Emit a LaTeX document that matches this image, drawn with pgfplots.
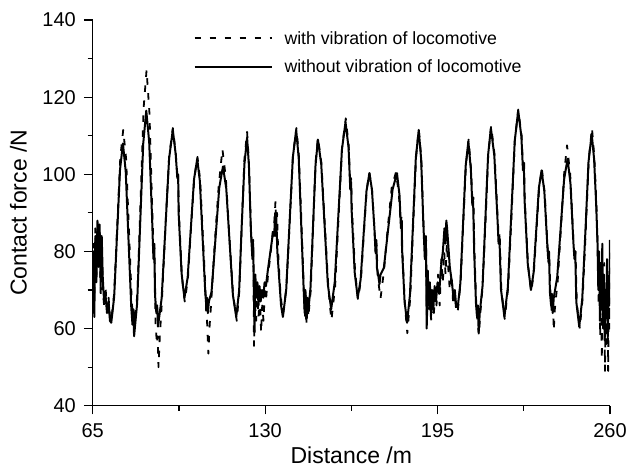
\documentclass[border=0pt]{standalone}
\usepackage{fontspec}
\setmainfont{Liberation Sans}
\usepackage{pgfplots}
\pgfplotsset{compat=1.18}
\begin{document}
\begin{tikzpicture}
\useasboundingbox (-92.7pt,-64.3pt) rectangle (534.3pt,405.7pt);
\begin{axis}[
  at={(0pt,0pt)}, anchor=south west,
  scale only axis, width=517.3pt, height=385.7pt,
  xmin=65, xmax=260, ymin=40, ymax=140,
  axis lines*=left,
  axis line style={-, line width=1.2pt, black},
  xtick={65,130,195,260}, minor xtick={97.5,162.5,227.5},
  ytick={40,60,80,100,120,140}, minor ytick={50,70,90,110,130},
  tick align=outside,
  major tick length=8.7pt, minor tick length=5pt,
  tick style={line width=1.2pt, black},
  /pgf/number format/assume math mode=true,
  ticklabel style={font=\fontsize{20}{21}\selectfont, inner sep=0pt},
  xticklabel style={yshift=-8.9pt},
  yticklabel style={xshift=-8pt},
  xlabel={Distance /m}, ylabel={Contact force /N},
  label style={font=\fontsize{23}{24}\selectfont},
  xlabel style={at={(axis description cs:0.5,-0.1493)}, anchor=base},
  ylabel style={at={(axis description cs:-0.1276,0.5)}, anchor=base},
  legend style={at={(axis description cs:0.1945,0.9715)}, anchor=north west,
    draw=none, fill=none, inner sep=0pt, row sep=14.4pt,
    font=\fontsize{17.7}{18}\selectfont, nodes={inner sep=0pt}},
  legend cell align=left,
  /tikz/every odd column/.append style={column sep=12pt},
  legend image code/.code={\draw[#1] (0pt,0pt) -- (77pt,0pt);},
]
\addplot[black, line width=1.8pt, dash pattern=on 6.5pt off 8.5pt, line join=round] coordinates {
(65.0,66) (65.3,82) (65.6,68) (66.0,86) (66.4,74) (66.8,86) (67.2,78) (67.6,85) (68.0,68) (68.4,82) (68.8,70) (69.3,66) (69.8,71) (70.4,65) (71.0,68) (71.5,63) (72.0,62)
(73.1,69.2) (74.25,86.8) (75.4,104.3) (76.5,111.5)
(77.6,104) (78.65,85.8) (79.7,67.5) (80.1,63) (80.4,66) (80.8,60)
(81.9,69.8) (83.05,93.5) (84.2,117.2) (85.3,127)
(86.4,115.8) (87.55,88.5) (88.0,80) (88.3,82) (88.7,61.2) (89.2,56) (89.5,58) (89.8,50)
(90.3,58) (91.0,66) (92.4,86) (93.8,104.5) (95.2,112)
(96.3,105.5) (96.9,100) (97.2,101) (97.5,90) (98.6,74) (99.3,69) (99.7,67)
(100.9,73) (102.1,86.5) (103.3,99) (104.5,104.5)
(105.5,98.5) (106.5,84.5) (107.4,72) (107.8,64) (108.1,62) (108.6,53.5) (109.0,60)
(109.6,66) (110.9,81) (112.5,97) (113.9,106.5)
(115.2,99) (116.6,83) (117.9,69) (119.3,62)
(120.3,70) (121.2,87) (122.2,104) (123.2,111)
(123.9,103) (124.6,87) (125.1,79) (125.5,83) (125.8,55.5) (126.2,66) (126.6,62) (127.0,70) (127.5,63) (128.0,68) (128.5,59) (128.9,66) (129.4,62) (129.9,70) (130.4,68) (131.1,74) (132.0,79) (133.0,86) (133.5,88) (133.9,93) (134.2,86) (134.5,90) (134.9,80) (135.5,72) (136.1,67) (136.8,64)
(138.0,70.5) (139.3,88) (140.5,105) (141.8,112)
(142.7,105) (143.7,87.5) (144.6,70) (145.0,63) (145.3,69) (145.6,61) (146.0,66) (146.3,63)
(147.2,70) (148.1,86.5) (149.0,103) (149.9,109.5)
(151.2,103) (152.5,87) (153.8,71) (154.4,66) (155.0,62.2)
(156.4,71) (157.7,89) (159.0,107) (160.4,114.5)
(161.5,107.5) (162.1,97) (162.4,99) (162.7,91) (163.9,75) (165.0,67.5)
(166.1,72.5) (167.2,84.5) (168.3,96) (169.3,100.5)
(170.3,96) (171.3,85) (171.7,79) (172.0,82) (172.4,74) (172.9,71) (173.5,67.8)
(174.8,75) (176.2,86) (177.7,96.5) (179.3,100.5)
(180.4,95) (181.1,87) (181.4,89) (181.8,79) (182.7,66) (183.6,58.8)
(184.7,68) (185.8,86.5) (186.9,104.5) (187.9,111.8)
(188.9,104) (189.7,87) (190.3,79) (190.7,83) (191.0,62) (191.4,72) (191.8,65) (192.2,70) (192.6,62) (193.1,68) (193.6,64) (194.1,69) (194.6,66) (195.2,74) (195.8,66) (196.4,78) (197.0,72) (197.5,80) (198.0,74) (198.5,82) (199.0,76) (199.6,70) (200.3,74) (200.9,66) (201.5,69) (202.1,64) (202.7,65)
(203.7,72) (204.7,87.5) (205.7,102.5) (206.7,109)
(207.6,101.5) (208.2,92) (208.5,94) (208.9,80) (209.6,66) (210.0,62) (210.6,58.3) (211.0,63)
(212.0,71) (213.1,88) (214.1,105) (215.2,112.5)
(216.5,105) (217.7,88) (218.1,83) (218.4,85) (219.0,70.5) (220.3,62.5)
(221.6,70.5) (222.9,89.5) (224.1,108.5) (225.4,116.8)
(226.7,110) (227.3,100) (227.6,104) (227.9,93) (229.1,76.5) (230.3,69.5)
(231.3,74.5) (232.3,85.5) (233.3,96.5) (234.3,101.5)
(235.4,95) (236.4,82) (236.8,77) (237.1,79) (237.6,68) (238.1,64) (238.5,66) (238.8,59.5) (239.2,65)
(240.3,72.5) (241.5,86) (242.7,100) (243.8,107.5)
(245.0,100) (246.2,83) (246.7,78) (247.0,80) (247.5,66.5) (248.6,60)
(249.7,68) (250.9,86) (252.0,104) (253.2,112)
(254.1,104.5) (254.9,92) (255.4,80) (255.7,66) (256.0,78) (256.3,58) (256.6,74) (256.9,52) (257.2,70) (257.5,62) (257.8,77) (258.1,49) (258.4,66) (258.7,56) (259.0,72) (259.3,49) (259.6,70) (259.9,60) (260.0,80)
};
\addlegendentry{with vibration of locomotive}
\addplot[black, line width=2pt, line join=round] coordinates {
(65.0,70) (65.3,80) (65.6,63) (66.0,84) (66.4,72) (66.8,88) (67.2,76) (67.6,87) (68.0,71) (68.4,84) (68.8,73) (69.3,67) (69.8,69) (70.4,64) (71.0,67) (71.5,62) (72.0,61.5)
(73.1,68.3) (74.2,84.8) (75.3,101.2) (76.4,108)
(77.45,100.7) (78.5,83) (79.55,65.3) (80.0,61) (80.3,65) (80.6,58)
(81.75,66.5) (82.9,87.3) (84.05,108) (85.2,116.5)
(86.3,108.3) (87.4,88.5) (87.6,84) (87.9,78) (88.2,81) (88.5,68.7) (89.0,64) (89.3,66) (89.6,60.5)
(91.0,67.9) (92.4,86) (93.8,104.1) (95.2,111.5)
(96.3,105.1) (96.9,99) (97.2,100) (97.4,89.8) (98.5,74.4) (99.2,70) (99.6,68)
(100.8,73.3) (102.0,86) (103.2,98.7) (104.4,104)
(105.4,98.2) (106.4,84) (107.4,69.8) (107.8,66) (108.1,68) (108.4,64) (108.8,67)
(109.8,69.5) (111.25,83) (112.7,96.5) (114.1,102)
(115.35,96.3) (116.6,82.5) (117.85,68.7) (119.1,63)
(120.2,69.8) (121.15,86.3) (122.2,102.7) (123.2,109.5)
(123.9,102.1) (124.6,86) (125.2,78) (125.5,82) (126.0,59) (126.3,74) (126.7,68) (127.1,72) (127.5,66) (127.9,71) (128.3,67) (128.8,70) (129.3,68) (129.8,72) (130.3,71) (131.0,75) (132.0,80) (133.0,85) (133.4,84) (133.8,90) (134.0,84) (134.2,89) (134.6,80) (135.4,72) (136.0,66) (136.7,63)
(137.95,70.1) (139.2,87.3) (140.45,104.4) (141.7,111.5)
(142.65,104.3) (143.6,87) (144.55,69.7) (144.9,64) (145.2,70) (145.5,62.5) (145.9,68) (146.2,64)
(147.1,70.6) (148.05,86.5) (149.0,102.4) (149.9,109)
(151.15,102.6) (152.4,87) (153.65,71.4) (154.9,65)
(156.25,72.1) (157.6,89.3) (158.95,106.4) (160.3,113.5)
(161.45,106.9) (162.1,96) (162.4,98) (162.6,90.8) (163.75,74.6) (164.9,68)
(166.0,72.7) (167.1,84.2) (168.2,95.6) (169.3,100.3)
(170.25,96.1) (171.2,85.9) (171.6,80) (171.9,83) (172.15,75.7) (172.6,74) (173.1,71.5) (173.5,74)
(174.75,75.7) (176.4,85.9) (178.05,96.1) (179.7,100.3)
(180.65,94.6) (181.2,86) (181.5,88) (181.6,80.9) (182.55,67.2) (183.5,61.5)
(184.6,68.8) (185.7,86.5) (186.8,104.2) (187.9,111.5)
(188.8,104) (189.6,88) (190.2,78) (190.6,84) (190.9,60) (191.3,75) (191.7,66) (192.1,72) (192.5,63) (192.9,70) (193.4,65) (193.9,71) (194.4,67) (195.0,72) (195.6,69) (196.3,76) (197.0,80) (197.6,86) (198.0,82) (198.3,88) (198.6,86) (199.0,82) (199.6,76) (200.4,72) (201.0,68) (201.5,70) (202.0,66) (202.6,65.5)
(203.6,71.8) (204.6,87) (205.6,102.2) (206.6,108.5)
(207.55,101.3) (208.1,92) (208.4,93) (208.8,80) (209.5,66.2) (209.9,63) (210.2,66) (210.5,59) (210.9,64)
(211.95,71) (213.0,88) (214.05,105) (215.1,112)
(216.4,104.8) (217.65,87.5) (218.0,82) (218.3,84) (218.9,70.2) (220.2,63)
(221.5,70.8) (222.8,89.8) (224.1,108.7) (225.4,116.5)
(226.6,109.7) (227.2,101) (227.5,103) (227.8,93.3) (229.0,76.8) (230.2,70)
(231.2,74.5) (232.2,85.5) (233.2,96.5) (234.2,101)
(235.25,95.6) (236.3,82.5) (236.7,78) (237.0,80) (237.35,69.4) (237.8,66) (238.1,69) (238.4,64) (238.8,68)
(240.1,73.3) (241.4,86) (242.7,98.7) (244.0,104)
(245.1,97.6) (246.2,82.3) (246.6,78) (246.9,80) (247.3,66.9) (248.4,60.5)
(249.55,67.8) (250.75,85.5) (251.9,103.2) (253.1,110.5)
(254.0,104) (254.8,92) (255.3,82) (255.6,70) (255.9,80) (256.2,62) (256.5,77) (256.8,66) (257.1,82) (257.4,60) (257.7,74) (258.0,57) (258.3,70) (258.6,64) (258.9,78) (259.2,58) (259.5,72) (259.8,66) (260.0,83)
};
\addlegendentry{without vibration of locomotive}
\end{axis}
\end{tikzpicture}
\end{document}
